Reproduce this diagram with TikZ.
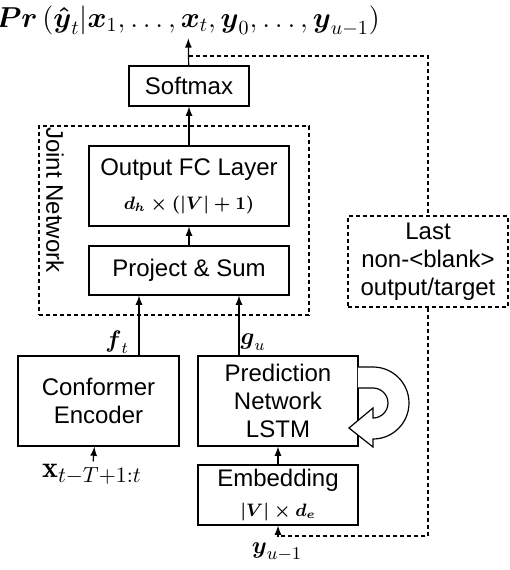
\documentclass[tikz,border=0pt]{standalone}
\usepackage{amsmath}
\usepackage{fontspec}
\newfontfamily\arialfont{Liberation Sans}
\usetikzlibrary{arrows,positioning}
\tikzset{
  basic/.style   = {draw, line width=0.6pt, rectangle, inner sep=0pt, align=center,
                    font=\arialfont\fontsize{12}{14}\selectfont},
  layer/.style   = {basic, fill=white},
  dashbox/.style = {basic, dash pattern=on 2pt off 1.5pt},
  sym/.style     = {inner sep=1pt, font=\fontsize{12}{14}\selectfont},
  flow/.style    = {->, line width=0.6pt},
  fb/.style      = {line width=0.6pt, dash pattern=on 2pt off 1.5pt}
}

\begin{document}
\begin{tikzpicture}[x=0.5pt, y=-0.5pt, >=latex]
\useasboundingbox (0,0) rectangle (510,570);

% output distribution
\node[sym, font=\fontsize{14}{16}\selectfont] (prob) at (188,21)
  {$\boldsymbol{Pr}\,(\boldsymbol{\hat{y}}_t|\boldsymbol{x}_1,\ldots,\boldsymbol{x}_t,
   \boldsymbol{y}_0,\ldots,\boldsymbol{y}_{u-1})$};

% joint network
\node[layer, minimum width=60pt, minimum height=20pt] (softmax) at (189,86) {Softmax};
\node[dashbox, minimum width=135pt, minimum height=94.5pt] (joint) at (174,220.5) {};
\node[basic, draw=none, rotate=-90] (jointlbl) at (55,200) {Joint Network};
\node[layer, minimum width=100pt, minimum height=40pt] (outfc) at (189,186)
  {Output FC Layer\\[3pt] {\boldmath\fontsize{9}{11}\selectfont$d_h\times(|V|+1)$}};
\node[layer, minimum width=100pt, minimum height=24.5pt] (projsum) at (189,270.5) {Project \& Sum};

% encoder and prediction network
\node[layer, minimum width=80.5pt, minimum height=45pt] (encoder) at (98.5,401) {Conformer\\Encoder};
\node[layer, minimum width=80pt, minimum height=45pt] (prednet) at (278,401) {Prediction\\Network\\LSTM};
\node[layer, minimum width=80pt, minimum height=30pt] (embed) at (278,495)
  {Embedding\\[1pt] {\boldmath\fontsize{9}{11}\selectfont$|V|\times d_e$}};
\node[dashbox, minimum width=80pt, minimum height=45.5pt] (last) at (428,261.5)
  {Last\\non-<blank>\\output/target};

% inputs and intermediate labels
\node[sym, font=\fontsize{15}{17}\selectfont] (xin) at (92,474) {$\mathbf{x}_{t-T+1:t}$};
\node[sym, font=\fontsize{13}{15}\selectfont] (yprev) at (277,552) {$\boldsymbol{y}_{u-1}$};
\node[sym] (ft) at (117,342) {$\boldsymbol{f}_t$};
\node[sym] (gu) at (253,342) {$\boldsymbol{g}_u$};

\coordinate (fcol) at (139,0);
\coordinate (gcol) at (239,0);
\coordinate (split) at (189,56);
\coordinate (back) at (428,536);

% connections
\draw[flow] (softmax) -- (prob);
\draw[flow] (outfc) -- (softmax);
\draw[flow] (projsum) -- (outfc);
\draw[flow] (encoder.north -| fcol) -- (projsum.south -| fcol);
\draw[flow] (prednet.north -| gcol) -- (projsum.south -| gcol);
\draw[flow] (xin) -- (encoder);
\draw[flow] (embed) -- (prednet);
\draw[fb] (split) -| (last.north);
\draw[fb, ->] (last.south) |- (embed.south |- back) -- (embed.south);

% recurrence
\draw[line width=0.6pt, fill=white] (358,367) -- (373,367) arc[start angle=-90, end angle=90, radius=36]
  -- (373,447) -- (349,428) -- (373,408) -- (373,418)
  arc[start angle=90, end angle=-90, radius=15] -- (358,388);

\end{tikzpicture}
\end{document}
